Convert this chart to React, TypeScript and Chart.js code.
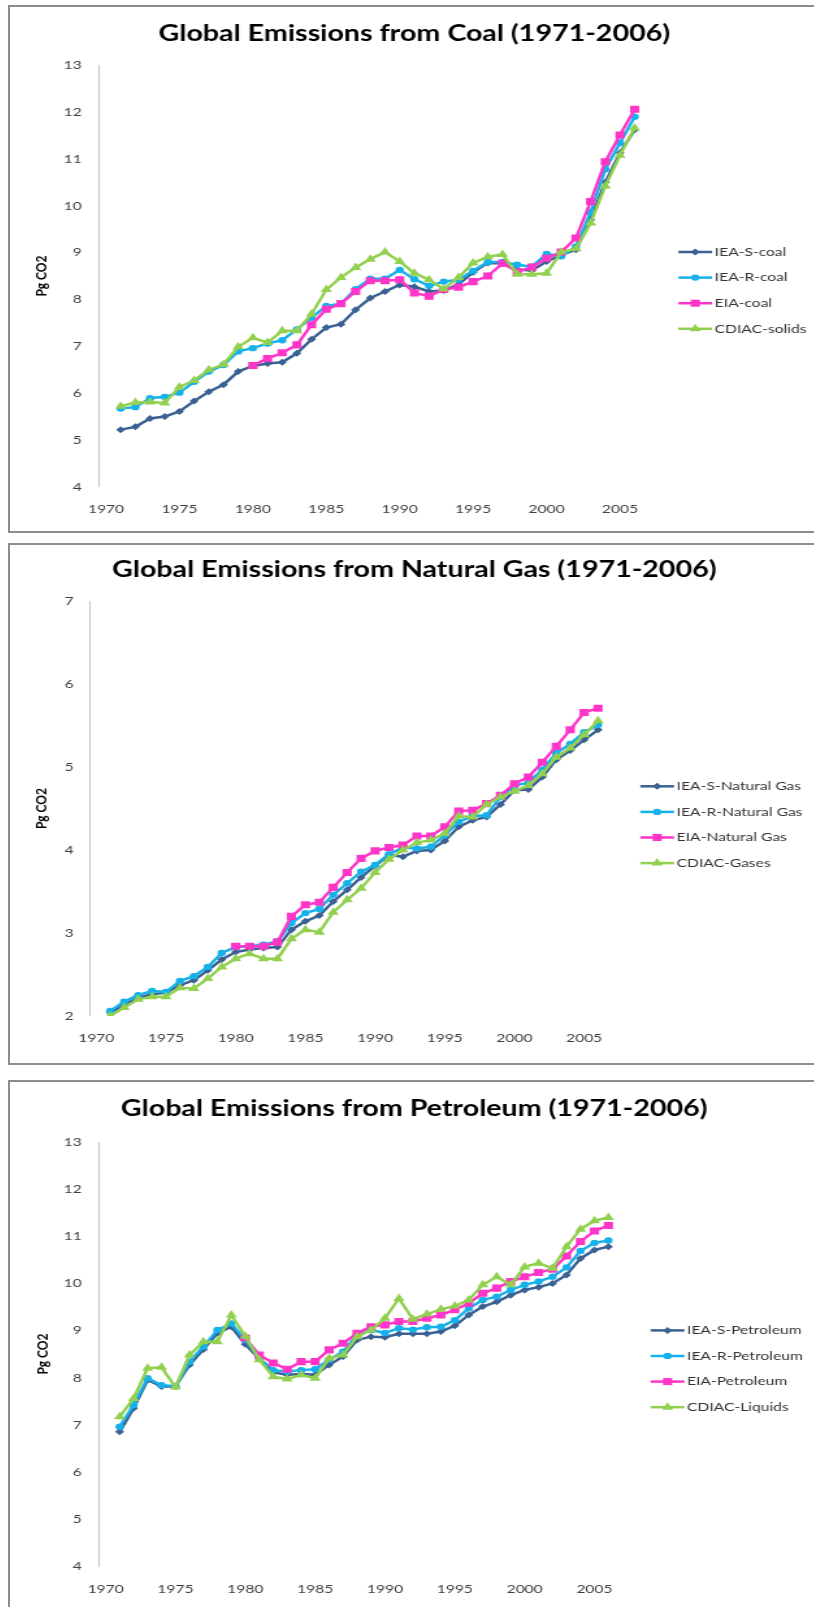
import React, { useEffect, useRef } from 'react';
import { Chart, registerables } from 'chart.js';

Chart.register(...registerables);

// ---------- DATA ----------
const years = [1971, 1972, 1973, 1974, 1975, 1976, 1977, 1978, 1979, 1980, 1981, 1982, 1983, 1984, 1985, 1986, 1987, 1988, 1989, 1990, 1991, 1992, 1993, 1994, 1995, 1996, 1997, 1998, 1999, 2000, 2001, 2002, 2003, 2004, 2005, 2006];
const xTickValues = [1970, 1975, 1980, 1985, 1990, 1995, 2000, 2005];

const coalIeaS = [5.22, 5.28, 5.46, 5.50, 5.61, 5.83, 6.03, 6.18, 6.46, 6.58, 6.63, 6.66, 6.85, 7.15, 7.40, 7.47, 7.78, 8.03, 8.17, 8.31, 8.27, 8.17, 8.19, 8.32, 8.58, 8.78, 8.77, 8.64, 8.62, 8.81, 8.95, 9.06, 9.70, 10.50, 11.13, 11.62];
const coalIeaR = [5.67, 5.70, 5.89, 5.92, 6.01, 6.24, 6.46, 6.60, 6.89, 6.96, 7.06, 7.13, 7.36, 7.61, 7.86, 7.91, 8.22, 8.44, 8.44, 8.63, 8.43, 8.29, 8.38, 8.42, 8.61, 8.80, 8.80, 8.74, 8.70, 8.97, 8.92, 9.13, 9.86, 10.78, 11.34, 11.90];
const coalEia = [null, null, null, null, null, null, null, null, null, 6.59, 6.74, 6.86, 7.03, 7.46, 7.79, 7.91, 8.17, 8.40, 8.40, 8.42, 8.14, 8.07, 8.21, 8.26, 8.38, 8.50, 8.77, 8.59, 8.69, 8.88, 9.01, 9.31, 10.09, 10.94, 11.51, 12.06];
const coalCdiac = [5.72, 5.80, 5.81, 5.79, 6.13, 6.27, 6.50, 6.61, 6.99, 7.18, 7.08, 7.33, 7.33, 7.69, 8.21, 8.47, 8.68, 8.86, 9.01, 8.81, 8.56, 8.42, 8.22, 8.47, 8.78, 8.91, 8.96, 8.54, 8.54, 8.56, 9.01, 9.08, 9.63, 10.42, 11.08, 11.66];

const gasIeaS = [2.04, 2.13, 2.22, 2.26, 2.28, 2.37, 2.43, 2.55, 2.68, 2.77, 2.80, 2.82, 2.83, 3.04, 3.14, 3.21, 3.38, 3.52, 3.67, 3.81, 3.94, 3.92, 3.99, 4.00, 4.11, 4.28, 4.36, 4.40, 4.55, 4.72, 4.73, 4.88, 5.09, 5.20, 5.33, 5.45];
const gasIeaR = [2.06, 2.17, 2.25, 2.30, 2.29, 2.42, 2.48, 2.59, 2.76, 2.83, 2.84, 2.86, 2.90, 3.12, 3.24, 3.29, 3.46, 3.60, 3.74, 3.82, 3.95, 4.03, 4.02, 4.04, 4.18, 4.34, 4.41, 4.42, 4.64, 4.78, 4.81, 4.97, 5.17, 5.28, 5.42, 5.51];
const gasEia = [null, null, null, null, null, null, null, null, null, 2.84, 2.84, 2.84, 2.89, 3.20, 3.34, 3.37, 3.55, 3.73, 3.90, 3.99, 4.03, 4.06, 4.17, 4.17, 4.28, 4.47, 4.48, 4.56, 4.66, 4.80, 4.88, 5.06, 5.25, 5.45, 5.66, 5.71];
const gasCdiac = [2.00, 2.10, 2.20, 2.23, 2.23, 2.34, 2.33, 2.45, 2.59, 2.69, 2.75, 2.69, 2.69, 2.93, 3.04, 3.01, 3.25, 3.40, 3.54, 3.73, 3.89, 4.00, 4.09, 4.12, 4.20, 4.41, 4.40, 4.55, 4.64, 4.71, 4.78, 4.92, 5.12, 5.23, 5.39, 5.56];

const petIeaS = [6.85, 7.35, 7.95, 7.81, 7.81, 8.27, 8.60, 8.94, 9.08, 8.71, 8.40, 8.11, 8.06, 8.08, 8.06, 8.27, 8.45, 8.80, 8.87, 8.86, 8.93, 8.93, 8.93, 8.98, 9.10, 9.33, 9.51, 9.61, 9.75, 9.86, 9.92, 10.00, 10.18, 10.53, 10.71, 10.78];
const petIeaR = [6.96, 7.42, 7.99, 7.84, 7.82, 8.34, 8.66, 9.01, 9.15, 8.80, 8.41, 8.16, 8.13, 8.16, 8.18, 8.38, 8.55, 8.91, 9.01, 8.95, 9.05, 9.02, 9.07, 9.08, 9.22, 9.47, 9.65, 9.72, 9.86, 9.97, 10.04, 10.14, 10.34, 10.69, 10.86, 10.91];
const petEia = [null, null, null, null, null, null, null, null, null, 8.84, 8.48, 8.31, 8.18, 8.34, 8.34, 8.59, 8.73, 8.94, 9.08, 9.12, 9.19, 9.19, 9.26, 9.33, 9.44, 9.58, 9.79, 9.90, 10.04, 10.14, 10.23, 10.30, 10.58, 10.89, 11.11, 11.23];
const petCdiac = [7.17, 7.56, 8.20, 8.22, 7.80, 8.48, 8.76, 8.76, 9.33, 8.88, 8.38, 8.02, 7.97, 8.06, 7.99, 8.41, 8.48, 8.87, 9.01, 9.26, 9.68, 9.24, 9.35, 9.45, 9.52, 9.65, 9.97, 10.14, 9.97, 10.35, 10.43, 10.32, 10.78, 11.15, 11.33, 11.40];

const coalLabels = ['IEA-S-coal', 'IEA-R-coal', 'EIA-coal', 'CDIAC-solids'];
const gasLabels = ['IEA-S-Natural Gas', 'IEA-R-Natural Gas', 'EIA-Natural Gas', 'CDIAC-Gases'];
const petLabels = ['IEA-S-Petroleum', 'IEA-R-Petroleum', 'EIA-Petroleum', 'CDIAC-Liquids'];

// ---------- STYLE ----------
const STRETCH = 1.3;
const CANVAS_W = 620;
const FONT = 'Lato';
const seriesStyles = [
  { color: '#3b6193', point: 'rectRot', radius: 3.5, order: 4 },
  { color: '#17b1ea', point: 'circle', radius: 3.2, order: 3 },
  { color: '#ff35c8', point: 'rect', radius: 5, order: 2 },
  { color: '#92d050', point: 'triangle', radius: 5, order: 1 },
];

function drawMarker(ctx: CanvasRenderingContext2D, style: string, x: number, y: number, r: number, color: string) {
  ctx.fillStyle = color;
  ctx.beginPath();
  if (style === 'circle') {
    ctx.arc(x, y, r, 0, Math.PI * 2);
  } else if (style === 'rect') {
    const s = r * Math.SQRT1_2;
    ctx.rect(x - s, y - s, 2 * s, 2 * s);
  } else if (style === 'triangle') {
    for (let k = 0; k < 3; k++) {
      const a = (k * 2 * Math.PI) / 3;
      const px = x + Math.sin(a) * r;
      const py = y - Math.cos(a) * r;
      if (k === 0) ctx.moveTo(px, py); else ctx.lineTo(px, py);
    }
    ctx.closePath();
  } else {
    ctx.moveTo(x, y - r);
    ctx.lineTo(x + r, y);
    ctx.lineTo(x, y + r);
    ctx.lineTo(x - r, y);
    ctx.closePath();
  }
  ctx.fill();
}

const decorPlugin = {
  id: 'decor',
  afterDraw(chart: any, _args: any, opts: any) {
    const { ctx, chartArea } = chart;
    ctx.save();
    ctx.font = `bold 22px ${FONT}`;
    ctx.fillStyle = '#000';
    ctx.textAlign = 'center';
    ctx.textBaseline = 'middle';
    ctx.fillText(opts.title, opts.titleX, opts.titleY);
    const x0 = chartArea.right + opts.legendGap;
    opts.items.forEach((it: any, i: number) => {
      const y = opts.legendTop + i * opts.legendStep;
      ctx.strokeStyle = it.color;
      ctx.lineWidth = 2.5;
      ctx.beginPath();
      ctx.moveTo(x0, y);
      ctx.lineTo(x0 + 26, y);
      ctx.stroke();
      drawMarker(ctx, it.point, x0 + 13, y, it.radius, it.color);
      ctx.font = `12px ${FONT}`;
      ctx.fillStyle = '#333';
      ctx.textAlign = 'left';
      ctx.textBaseline = 'middle';
      ctx.fillText(it.label, x0 + 28, y);
    });
    ctx.restore();
  },
};

type PanelCfg = {
  title: string;
  labels: string[];
  series: (number | null)[][];
  yMin: number;
  yMax: number;
  top: number;
  height: number;
  canvasH: number;
  padTop: number;
  padRight: number;
  yAxisW: number;
  xAxisH: number;
  xPad: number;
  yPad: number;
  yTitlePad: number;
  titleY: number;
  legendTop: number;
};

function Panel({ cfg }: { cfg: PanelCfg }) {
  const ref = useRef<HTMLCanvasElement | null>(null);
  useEffect(() => {
    if (!ref.current) return;
    const datasets = cfg.series.map((vals, si) => {
      const st = seriesStyles[si];
      return {
        label: cfg.labels[si],
        data: years.map((yr, i) => ({ x: yr, y: vals[i] })),
        borderColor: st.color,
        backgroundColor: st.color,
        borderWidth: 2.5,
        pointStyle: st.point,
        pointRadius: st.radius,
        pointBorderWidth: 0,
        pointBackgroundColor: st.color,
        tension: 0,
        order: st.order,
      };
    });
    const chart = new Chart(ref.current, {
      type: 'line',
      data: { datasets } as any,
      plugins: [decorPlugin as any],
      options: {
        animation: false,
        responsive: false,
        devicePixelRatio: 1,
        parsing: true,
        layout: { padding: { top: cfg.padTop, right: cfg.padRight, bottom: 0, left: 0 } },
        plugins: {
          legend: { display: false },
          tooltip: { enabled: false },
          title: { display: false },
          decor: {
            title: cfg.title,
            titleX: 311,
            titleY: cfg.titleY,
            legendGap: 11,
            legendTop: cfg.legendTop,
            legendStep: 25.6,
            items: cfg.labels.map((l, i) => ({ label: l, ...seriesStyles[i] })),
          },
        } as any,
        scales: {
          x: {
            type: 'linear',
            min: 1969.5,
            max: 2008,
            afterBuildTicks: (s: any) => {
              s.ticks = xTickValues.map((v) => ({ value: v }));
            },
            afterFit: (s: any) => {
              s.height = cfg.xAxisH;
            },
            grid: { display: false, drawTicks: false },
            border: { display: false },
            ticks: {
              padding: cfg.xPad,
              color: '#404040',
              font: { family: FONT, size: 12 },
              maxRotation: 0,
              autoSkip: false,
              callback: (v: any) => String(v),
            },
          },
          y: {
            type: 'linear',
            min: cfg.yMin,
            max: cfg.yMax,
            afterFit: (s: any) => {
              s.width = cfg.yAxisW;
            },
            grid: { display: false, drawTicks: false },
            border: { display: true, color: '#c4c4c4', width: 1 },
            ticks: {
              stepSize: 1,
              padding: cfg.yPad,
              color: '#404040',
              font: { family: FONT, size: 12 },
              callback: (v: any) => String(v),
            },
            title: {
              display: true,
              text: 'Pg CO2',
              color: '#000',
              font: { family: FONT, size: 12, weight: 'bold' },
              padding: { top: cfg.yTitlePad, bottom: 0 },
            },
          },
        },
      } as any,
    });
    return () => chart.destroy();
  }, [cfg]);

  return (
    <div
      style={{
        position: 'absolute',
        left: 8,
        top: cfg.top,
        width: 840,
        height: cfg.height,
        border: '2px solid #8c8c8c',
        boxSizing: 'border-box',
        background: '#fff',
        overflow: 'hidden',
      }}
    >
      <div
        style={{
          position: 'absolute',
          left: 0,
          top: 0,
          width: CANVAS_W,
          height: cfg.canvasH,
          transform: `scaleX(${STRETCH})`,
          transformOrigin: '0 0',
        }}
      >
        <canvas ref={ref} width={CANVAS_W} height={cfg.canvasH} style={{ display: 'block' }} />
      </div>
    </div>
  );
}

const coalCfg: PanelCfg = {
  title: 'Global Emissions from Coal (1971-2006)',
  labels: coalLabels,
  series: [coalIeaS, coalIeaR, coalEia, coalCdiac],
  yMin: 4, yMax: 13,
  top: 5, height: 528, canvasH: 524,
  padTop: 58.2, padRight: 116.9, yAxisW: 68.2, xAxisH: 44.2,
  xPad: 14.8, yPad: 13, yTitlePad: 17, titleY: 26.8, legendTop: 245,
};

const gasCfg: PanelCfg = {
  title: 'Global Emissions from Natural Gas (1971-2006)',
  labels: gasLabels,
  series: [gasIeaS, gasIeaR, gasEia, gasCdiac],
  yMin: 2, yMax: 7,
  top: 543, height: 522, canvasH: 518,
  padTop: 56.3, padRight: 146.2, yAxisW: 61.0, xAxisH: 47.1,
  xPad: 14.9, yPad: 12, yTitlePad: 17, titleY: 24.8, legendTop: 241.3,
};

const petCfg: PanelCfg = {
  title: 'Global Emissions from Petroleum (1971-2006)',
  labels: petLabels,
  series: [petIeaS, petIeaR, petEia, petCdiac],
  yMin: 4, yMax: 13,
  top: 1080, height: 560, canvasH: 530,
  padTop: 60, padRight: 138.2, yAxisW: 68.2, xAxisH: 45.8,
  xPad: 15.6, yPad: 13, yTitlePad: 18, titleY: 27.4, legendTop: 248.4,
};

export default function App() {
  return (
    <div
      style={{
        position: 'fixed',
        left: 0,
        top: 0,
        width: 814,
        height: 1607,
        overflow: 'hidden',
        background: '#fff',
      }}
    >
      <Panel cfg={coalCfg} />
      <Panel cfg={gasCfg} />
      <Panel cfg={petCfg} />
    </div>
  );
}
